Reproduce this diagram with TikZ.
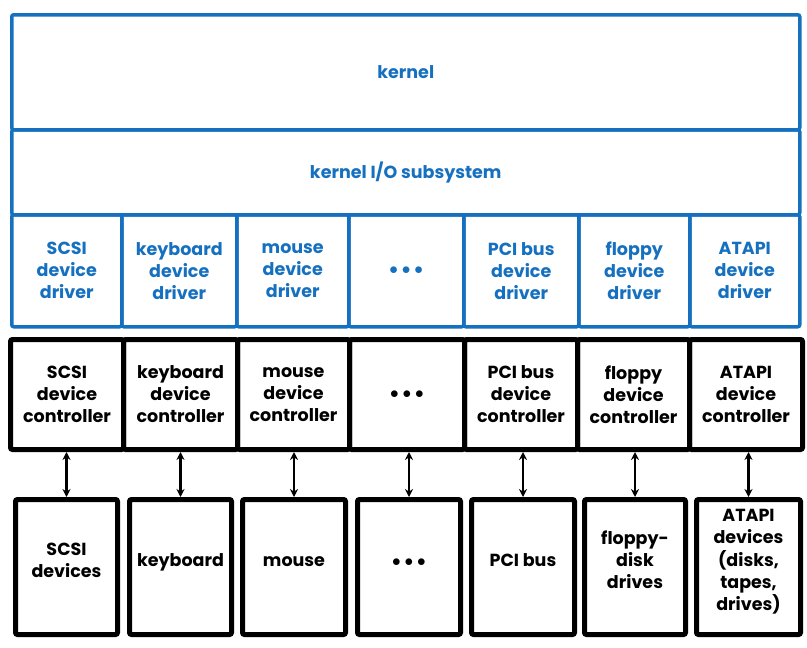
\documentclass[tikz,border=0pt]{standalone}
\usepackage{fontspec}
\setmainfont{Poppins}
\usetikzlibrary{arrows.meta}
\definecolor{myblue}{RGB}{22,112,192}
\newcommand\devtxt[1]{\raisebox{5pt}[\height][\depth]{\begin{tabular}{@{}c@{}}#1\end{tabular}}}
\tikzset{
  cellbase/.style={anchor=north west, inner sep=0pt, align=center, rounded corners=2pt,
    font=\fontsize{17.5}{22}\selectfont\bfseries},
  bluecell/.style={cellbase, draw=myblue, line width=3.5pt, text=myblue},
  blackcell/.style={cellbase, draw=black, line width=5pt, text=black},
  link/.style={draw=black, line width=2.2pt, {Stealth[length=8pt,width=8pt]}-{Stealth[length=8pt,width=8pt]}}
}
\begin{document}
\begin{tikzpicture}[x=1pt,y=-1pt]
\useasboundingbox (0,0) rectangle (807,648);
% blue software layers
\node[bluecell, minimum width=788pt, minimum height=115pt] (kernel) at (10,13) {kernel};
\node[bluecell, minimum width=788pt, minimum height=85pt] (kio) at (10,128) {kernel I/O subsystem};
\node[bluecell, minimum width=110pt, minimum height=112pt] (d1) at (10,213) {SCSI\\device\\driver};
\node[bluecell, minimum width=115pt, minimum height=112pt] (d2) at (120,213) {keyboard\\device\\driver};
\node[bluecell, minimum width=112pt, minimum height=112pt] (d3) at (235,213) {mouse\\device\\driver};
\node[bluecell, minimum width=115pt, minimum height=112pt] (d4) at (347,213) {$\bullet\bullet\bullet$};
\node[bluecell, minimum width=115pt, minimum height=112pt] (d5) at (462,213) {PCI bus\\device\\driver};
\node[bluecell, minimum width=111pt, minimum height=112pt] (d6) at (577,213) {floppy\\device\\driver};
\node[bluecell, minimum width=110pt, minimum height=112pt] (d7) at (688,213) {ATAPI\\device\\driver};
% controllers
\node[blackcell, minimum width=113pt, minimum height=110pt] (c1) at (8,337) {SCSI\\device\\controller};
\node[blackcell, minimum width=114pt, minimum height=110pt] (c2) at (121,337) {keyboard\\device\\controller};
\node[blackcell, minimum width=112pt, minimum height=110pt] (c3) at (235,337) {mouse\\device\\controller};
\node[blackcell, minimum width=115pt, minimum height=110pt] (c4) at (347,337) {$\bullet\bullet\bullet$};
\node[blackcell, minimum width=113pt, minimum height=110pt] (c5) at (462,337) {PCI bus\\device\\controller};
\node[blackcell, minimum width=112pt, minimum height=110pt] (c6) at (575,337) {floppy\\device\\controller};
\node[blackcell, minimum width=113pt, minimum height=110pt] (c7) at (687,337) {ATAPI\\device\\controller};
% devices
\node[blackcell, minimum width=102pt, minimum height=135pt] (v1) at (13,497) {\devtxt{SCSI\\devices}};
\node[blackcell, minimum width=102pt, minimum height=135pt] (v2) at (127,497) {\devtxt{keyboard}};
\node[blackcell, minimum width=103pt, minimum height=135pt] (v3) at (240,497) {\devtxt{mouse}};
\node[blackcell, minimum width=103pt, minimum height=135pt] (v4) at (355,497) {\devtxt{$\bullet\bullet\bullet$}};
\node[blackcell, minimum width=103pt, minimum height=135pt] (v5) at (469,497) {\devtxt{PCI bus}};
\node[blackcell, minimum width=101pt, minimum height=135pt] (v6) at (582,497) {\devtxt{floppy-\\disk\\drives}};
\node[blackcell, minimum width=104pt, minimum height=135pt] (v7) at (694,497) {\devtxt{ATAPI\\devices\\(disks,\\tapes,\\drives)}};
% links
\foreach \i in {1,...,7}{
  \draw[link] (v\i.north |- c\i.south) -- (v\i.north);
}
\end{tikzpicture}
\end{document}
